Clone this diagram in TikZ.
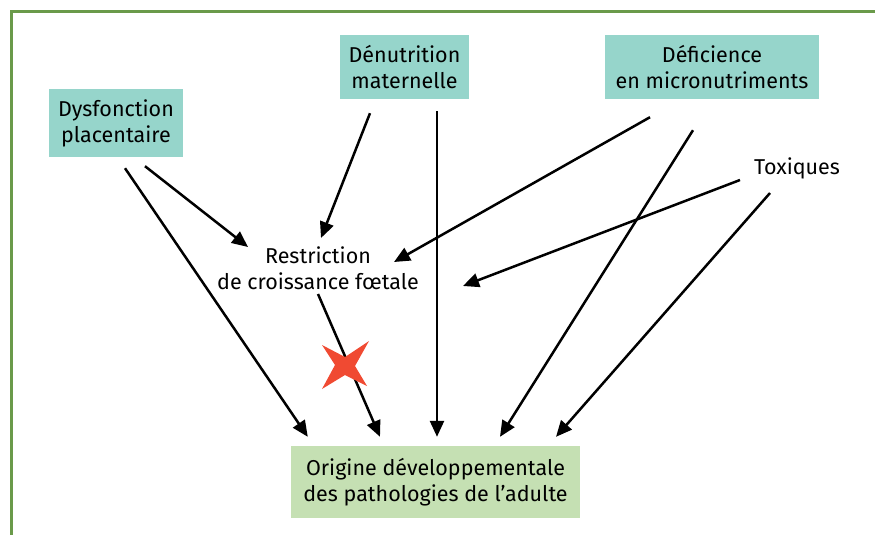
\documentclass[tikz,border=0pt]{standalone}
\usepackage{fontspec}
\setmainfont{Fira Sans}
\usetikzlibrary{arrows.meta}
\usetikzlibrary{calc}

\definecolor{boxteal}{HTML}{96D5CB}
\definecolor{boxgreen}{HTML}{C5E0B3}
\definecolor{framegreen}{HTML}{6A9A4A}
\definecolor{crossred}{HTML}{F04A32}

\tikzset{
  cause/.style={fill=boxteal, align=center, inner sep=0pt},
  plain/.style={align=center, inner sep=0pt},
  arr/.style={line width=2.5pt, -{Triangle[length=16pt,width=14pt]}},
}

\begin{document}
\begin{tikzpicture}[x=1pt,y=-1pt, font=\fontsize{21.5}{26}\selectfont]
        \useasboundingbox (0,0) rectangle (875,535);
        \draw[framegreen, line width=3pt] (11,536) -- (11,11.5) -- (876,11.5);

        \node[cause, minimum width=134pt, minimum height=68pt] (dys) at (116,123) {Dysfonction\\placentaire};
        \node[cause, minimum width=129pt, minimum height=64pt] (den) at (404.5,67) {Dénutrition\\maternelle};
        \node[cause, minimum width=214pt, minimum height=64pt] (def) at (712,67) {Déficience\\en micronutriments};
        \node[plain] (tox) at (797,168) {Toxiques};
        \node[plain] (rcf) at (318,268) {Restriction\\de croissance fœtale};
        \node[fill=boxgreen, align=center, inner sep=0pt, minimum width=289pt, minimum height=72pt] (ori) at (435.5,482) {Origine développementale\\des pathologies de l’adulte};

        \draw[arr] ($(dys.south)+(29,9)$) -- ($(rcf)+(-70,-21)$);
        \draw[arr] ($(dys.south)+(9,11)$) -- ($(ori.north west)+(17,-9)$);
        \draw[arr] ($(den.south)+(-34.5,14)$) -- ($(rcf)+(3,-30)$);
        \draw[arr] ($(den.south)+(32.5,12)$) -- ($(ori.north)+(1.5,-9)$);
        \draw[arr] ($(def.south)+(-62,18)$) -- ($(rcf)+(76,-6)$);
        \draw[arr] ($(def.south)+(-19,31)$) -- ($(ori.north)+(64.5,-9)$);
        \draw[arr] ($(tox)+(-57,12)$) -- ($(rcf)+(145,18)$);
        \draw[arr] ($(tox)+(-27,25)$) -- ($(ori.north)+(120.5,-9)$);
        \draw[arr] ($(rcf)+(0,26)$) -- ($(ori.north)+(-55.5,-9)$);

        % broken link
        \fill[crossred] (345,366) ++(-23,-21) -- ++(23,12) -- ++(24,-16) -- ++(-14,25)
          -- ++(12,20) -- ++(-22,-11) -- ++(-23,14) -- ++(13,-24) -- cycle;
\end{tikzpicture}
\end{document}
